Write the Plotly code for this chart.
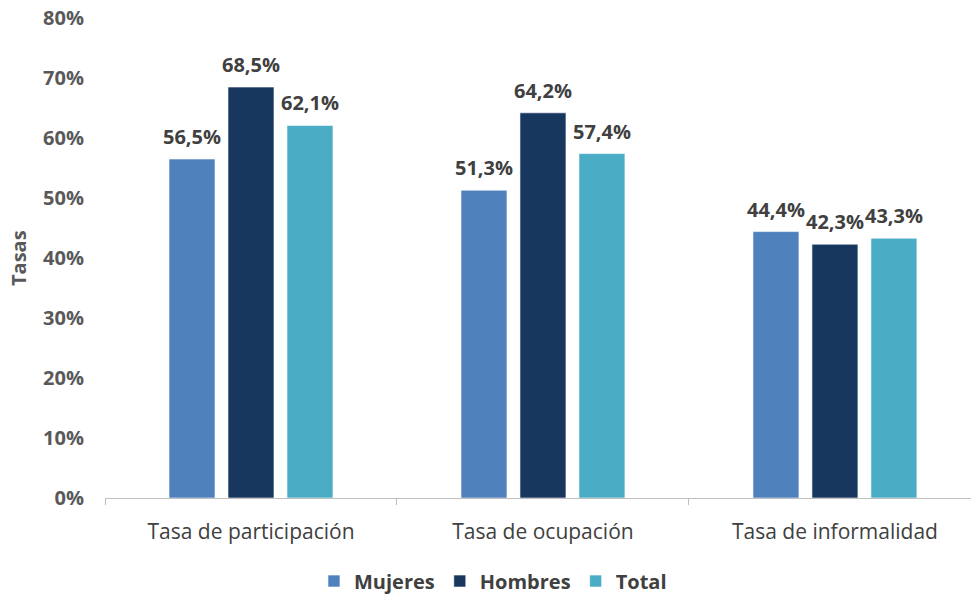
import plotly.graph_objects as go

categories = ["Tasa de participación", "Tasa de ocupación", "Tasa de informalidad"]
mujeres = [0.565, 0.513, 0.444]
hombres = [0.685, 0.642, 0.423]
total = [0.621, 0.574, 0.433]
series_names = ["Mujeres", "Hombres", "Total"]
colors = ["#4F81BD", "#17375E", "#4BACC6"]
y_ticks = [0, 0.1, 0.2, 0.3, 0.4, 0.5, 0.6, 0.7, 0.8]
y_tick_labels = ["0%", "10%", "20%", "30%", "40%", "50%", "60%", "70%", "80%"]

def fmt(v):
    return f"{v*100:.1f}%".replace(".", ",")

W, H = 971, 601
ML, MR, MT, MB = 105, 0, 18, 98
X_RANGE = [-0.5, 2.466]
BARGAP, BARGROUPGAP = 0.394, 0.22

fig = go.Figure()
series = [mujeres, hombres, total]
for name, vals, col in zip(series_names, series, colors):
    fig.add_trace(go.Bar(
        x=categories, y=vals, name=name,
        marker=dict(color=col, line=dict(color="rgba(255,255,255,0.6)", width=1)),
        hoverinfo="x+y+name",
    ))

# value labels above each bar (placed via data coordinates, offset to each bar's slot)
cat_px = (W - ML - MR) / (X_RANGE[1] - X_RANGE[0])
slot_px = cat_px * (1 - BARGAP) / len(series)
for i, vals in enumerate(series):
    off = (i - (len(series) - 1) / 2) * slot_px
    for c, v in zip(categories, vals):
        fig.add_annotation(
            x=c, y=v, xref="x", yref="y", text=fmt(v), showarrow=False,
            xshift=off, yanchor="bottom", yshift=7,
            font=dict(family="Open Sans", size=20, color="#404040", weight="bold"),
        )

fig.add_annotation(
    x=0, y=0.5, xref="paper", yref="paper", xshift=-87, xanchor="center", yanchor="middle",
    text="Tasas", textangle=-90,
    showarrow=False, font=dict(family="Open Sans", size=20, color="#595959", weight="bold"),
)

fig.update_layout(
    width=W, height=H,
    paper_bgcolor="white", plot_bgcolor="white",
    margin=dict(l=ML, r=MR, t=MT, b=MB),
    barmode="group", bargap=BARGAP, bargroupgap=BARGROUPGAP,
    font=dict(family="Open Sans", color="#595959"),
    legend=dict(orientation="h", x=0.448, xanchor="center", y=-0.173, yanchor="middle",
                font=dict(family="Open Sans", size=20, color="#404040", weight="bold"),
                traceorder="normal", itemwidth=30),
    xaxis=dict(
        automargin=False,
        range=X_RANGE,
        showline=True, linecolor="#BFBFBF", linewidth=1,
        ticks="outside", tickson="boundaries", tickcolor="#BFBFBF", ticklen=6,
        tickfont=dict(family="Open Sans", size=21, color="#404040"),
        ticklabelstandoff=15,
        showgrid=False,
    ),
    yaxis=dict(
        automargin=False,
        range=[0, 0.8], tickvals=y_ticks, ticktext=y_tick_labels,
        ticklabeloverflow="allow",
        showgrid=False, zeroline=False, showline=False,
        tickfont=dict(family="Open Sans", size=20, color="#595959", weight="bold"),
        ticklabelstandoff=20,
    ),
)

fig.write_html(
    "out.html",
    config={"displayModeBar": False},
    post_script=(
        "document.documentElement.style.overflow='hidden';"
        "document.body.style.margin='0';"
        "document.body.style.overflow='hidden';"
    ),
)
